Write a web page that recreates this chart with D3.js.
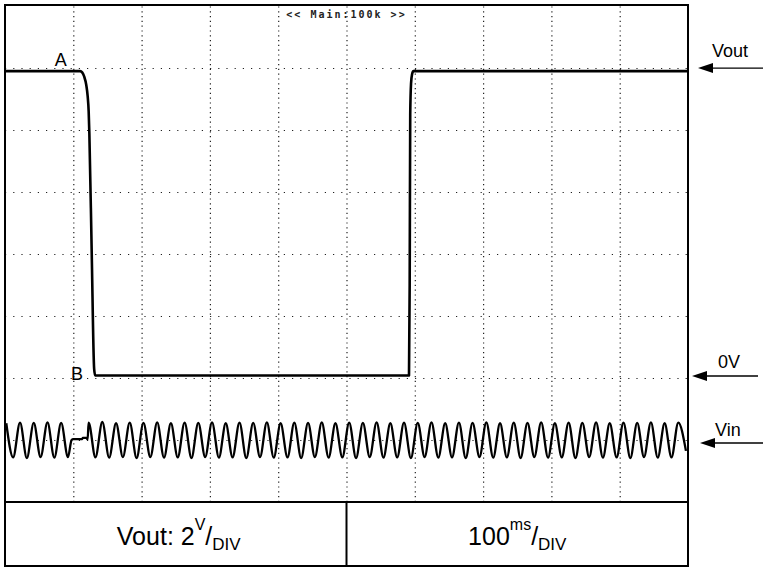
<!DOCTYPE html>
<html><head><meta charset="utf-8">
<script src="https://cdn.jsdelivr.net/npm/d3@7"></script>
<style>body{margin:0;background:#fff}svg{display:block}</style>
</head><body><svg id="c" width="763" height="567"></svg>
<script>
// ---- data ----
const timeTicks = [0,100,200,300,400,500,600,700,800,900,1000];   // ms (100 ms/div)
const voltTicks = [-4,-2,0,2,4,6,8,10,12];                          // V (2 V/div)
const headerText = "<< Main:100k >>";
const pointLabels = ["A","B"];
const channelLabels = ["Vout","0V","Vin"];
const scaleTextLeft = ["Vout: 2","V","/","DIV"];
const scaleTextRight = ["100","ms","/","DIV"];
const voutHigh = 9.9;
// Vout trace [time ms, volts]
const voutPoints = [
  [0,9.9],[110,9.9],[113,9.86],[116,9.72],[119,9.45],[121,9.1],[122.5,8.6],[123.5,7.9],
  [127,4.0],[130.5,0.3],[132,0.08],[591.5,0.08],[592.5,3.0],[593.3,8.5],[594.5,9.5],
  [596,9.8],[598,9.9],[1000,9.9]
];
// Vin trace extrema [time ms, screen level on the 2 V/div grid]
const vinPoints = [
  [1.9,-1.46],[11.9,-2.56],[22.0,-1.44],[32.0,-2.58],[42.1,-1.45],[52.1,-2.55],[62.2,-1.43],[72.2,-2.57],
  [82.2,-1.45],[92.2,-2.55],[97.5,-2.0],[100,-1.97],[113,-1.97],[114,-1.93],[119,-1.93],[121,-1.98],
  [122.4,-1.44],[132.4,-2.56],[142.5,-1.42],[152.5,-2.57],[162.6,-1.46],[172.6,-2.55],[182.6,-1.44],
  [192.7,-2.58],[202.7,-1.45],[212.8,-2.55],[222.8,-1.43],[232.8,-2.57],[242.9,-1.46],[252.9,-2.56],
  [263.0,-1.44],[273.0,-2.58],[283.0,-1.45],[293.1,-2.55],[303.1,-1.43],[313.2,-2.57],[323.2,-1.46],
  [333.2,-2.56],[343.3,-1.44],[353.3,-2.58],[363.4,-1.45],[373.4,-2.55],[383.4,-1.43],[393.5,-2.57],
  [403.5,-1.46],[413.6,-2.56],[423.6,-1.44],[433.6,-2.58],[443.7,-1.45],[453.7,-2.55],[463.8,-1.43],
  [473.8,-2.57],[483.8,-1.46],[493.9,-2.56],[503.9,-1.44],[514.0,-2.58],[524.0,-1.45],[534.0,-2.55],
  [544.1,-1.43],[554.1,-2.57],[564.2,-1.46],[574.2,-2.56],[584.2,-1.44],[594.3,-2.58],[604.3,-1.45],
  [614.4,-2.55],[624.4,-1.43],[634.4,-2.57],[644.5,-1.46],[654.5,-2.56],[664.6,-1.44],[674.6,-2.58],
  [684.6,-1.45],[694.7,-2.55],[704.7,-1.43],[714.8,-2.57],[724.8,-1.46],[734.8,-2.56],[744.9,-1.44],
  [754.9,-2.58],[765.0,-1.45],[775.0,-2.55],[785.0,-1.43],[795.1,-2.57],[805.1,-1.46],[815.2,-2.56],
  [825.2,-1.44],[835.2,-2.58],[845.3,-1.45],[855.3,-2.55],[865.4,-1.43],[875.4,-2.57],[885.4,-1.46],
  [895.5,-2.56],[905.5,-1.44],[915.6,-2.58],[925.6,-1.45],[935.6,-2.55],[945.7,-1.43],[955.7,-2.57],
  [965.8,-1.46],[975.8,-2.56],[985.8,-1.44],[997,-2.35]
];

// ---- layout ----
const L = 5, R = 688, T = 6, B = 502, BOT = 566;
const FONT = "'Liberation Sans', Arial, Helvetica, sans-serif";
const svg = d3.select("#c");
svg.append("rect").attr("width",763).attr("height",567).attr("fill","#fff");

const x = d3.scaleLinear().domain([0,1000]).range([L,R]);
const y = d3.scaleLinear().domain([-4,12]).range([B,T]);

// grid through axes
const gx = svg.append("g").attr("transform",`translate(0,${B})`)
  .call(d3.axisBottom(x).tickValues(timeTicks.slice(1,-1)).tickSize(-(B-T)).tickFormat(""));
gx.select(".domain").remove();
gx.selectAll("line").attr("stroke","#222").attr("stroke-width",1.2).attr("stroke-dasharray","1.2,3.6");
const gy = svg.append("g").attr("transform",`translate(${L},0)`)
  .call(d3.axisRight(y).tickValues(voltTicks.slice(1,-1)).tickSize(R-L).tickFormat(""));
gy.select(".domain").remove();
gy.selectAll("line").attr("stroke","#222").attr("stroke-width",1.2).attr("stroke-dasharray","1.2,7");

// header text
svg.append("text").attr("x",x(500)).attr("y",18).attr("text-anchor","middle")
  .attr("font-family","'DejaVu Sans Mono', monospace").attr("font-size",10).attr("font-weight","bold")
  .attr("letter-spacing",2).attr("fill","#222").text(headerText);

// traces
const line = d3.line().x(d=>x(d[0])).y(d=>y(d[1])).curve(d3.curveMonotoneX);
svg.append("path").datum(vinPoints).attr("d",line).attr("fill","none")
  .attr("stroke","#000").attr("stroke-width",2.3).attr("stroke-linejoin","round");
svg.append("path").datum(voutPoints).attr("d",line).attr("fill","none")
  .attr("stroke","#000").attr("stroke-width",2.6).attr("stroke-linejoin","round");

// A / B labels
svg.append("text").attr("x",x(73)).attr("y",y(10.05)).attr("font-family",FONT).attr("font-size",18)
  .attr("fill","#000").text(pointLabels[0]);
svg.append("text").attr("x",x(96.5)).attr("y",y(-0.05)).attr("font-family",FONT).attr("font-size",18)
  .attr("fill","#000").text(pointLabels[1]);

// frame
svg.append("rect").attr("x",L).attr("y",T-1).attr("width",R-L).attr("height",BOT-T+1)
  .attr("fill","none").attr("stroke","#000").attr("stroke-width",2);
svg.append("line").attr("x1",L).attr("x2",R).attr("y1",B).attr("y2",B).attr("stroke","#000").attr("stroke-width",2);
svg.append("line").attr("x1",x(500)).attr("x2",x(500)).attr("y1",B).attr("y2",BOT).attr("stroke","#000").attr("stroke-width",2);

// channel markers on the right
const markers = [
  {label:channelLabels[0], tip:698, end:763, ay:y(voutHigh)-3, tx:712, ty:57},
  {label:channelLabels[1], tip:692, end:758, ay:y(0)-2, tx:718, ty:368},
  {label:channelLabels[2], tip:700, end:763, ay:y(-2)+3, tx:715, ty:436}
];
markers.forEach(m=>{
  svg.append("line").attr("x1",m.tip+10).attr("x2",m.end).attr("y1",m.ay).attr("y2",m.ay)
    .attr("stroke","#000").attr("stroke-width",1.4);
  svg.append("path").attr("d",`M${m.tip},${m.ay}L${m.tip+15},${m.ay-5}L${m.tip+15},${m.ay+5}Z`).attr("fill","#000");
  svg.append("text").attr("x",m.tx).attr("y",m.ty).attr("font-family",FONT).attr("font-size",18)
    .attr("fill","#000").text(m.label);
});

// scale readouts
function readout(parts, cx){
  const t = svg.append("text").attr("x",cx).attr("y",545).attr("text-anchor","middle")
    .attr("font-family",FONT).attr("font-size",25).attr("fill","#000");
  t.append("tspan").text(parts[0]);
  t.append("tspan").attr("font-size",16).attr("dy",-15).text(parts[1]);
  t.append("tspan").attr("font-size",25).attr("dy",15).text(parts[2]);
  t.append("tspan").attr("font-size",17).attr("dy",5).text(parts[3]);
}
readout(scaleTextLeft,(L+x(500))/2+3);
readout(scaleTextRight,(x(500)+R)/2);
</script></body></html>
